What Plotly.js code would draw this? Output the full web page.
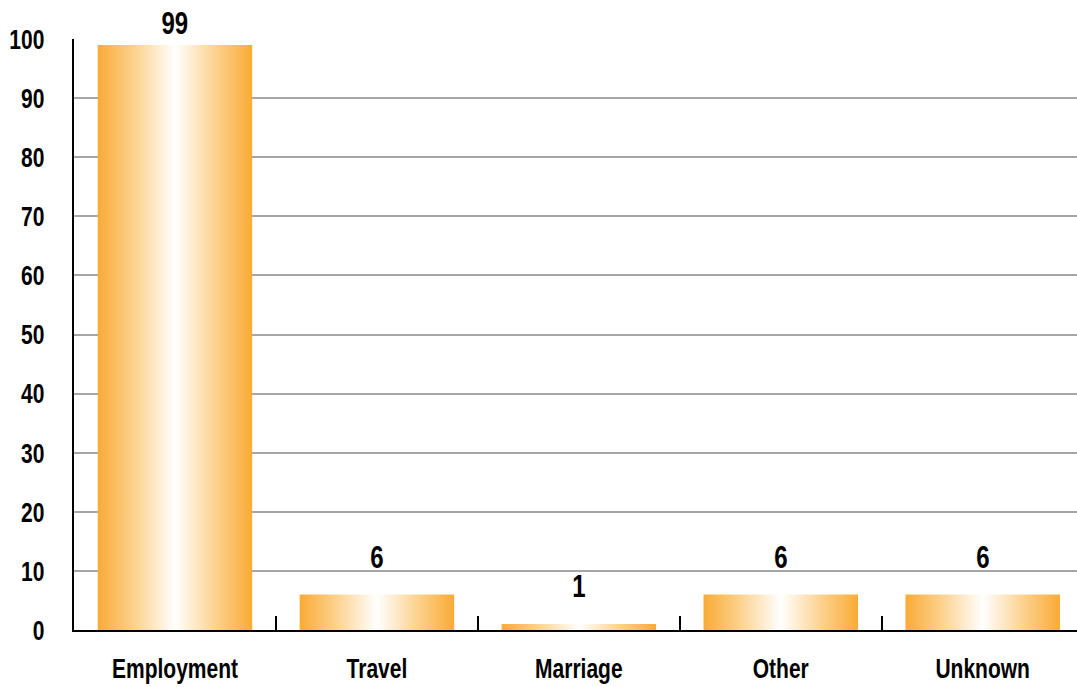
<!DOCTYPE html>
<html>
<head>
<meta charset="utf-8">
<script src="https://cdn.plot.ly/plotly-3.0.1.min.js"></script>
<style>
html,body{margin:0;padding:0;background:#fff;overflow:hidden;}
#chart{width:1077px;height:687px;}
</style>
</head>
<body>
<div id="chart"></div>
<script>
var categories = ["Employment", "Travel", "Marriage", "Other", "Unknown"];
var counts = [99, 6, 1, 6, 6];
var yTicks = [0, 10, 20, 30, 40, 50, 60, 70, 80, 90, 100];

var FONT = "'Liberation Sans', Arial, sans-serif";
var CONDENSE = 0.75;

var W = 1077, H = 687;
var M = {l: 74, r: 0, t: 39, b: 57};
var Y_MAX = 100;
var LABEL_GAP = 18;      // preferred offset of value labels above bar tops (px)
var LABEL_TOP_LIMIT = 43; // value label boxes may not rise above this pixel row

var trace = {
  type: "bar",
  x: categories,
  y: counts,
  width: 0.765,
  marker: {color: "#F9AD3A", line: {width: 0}},
  hoverinfo: "none"
};

var plotH = H - M.t - M.b;
var annotations = categories.map(function (c, i) {
  var barTopPx = M.t + (Y_MAX - counts[i]) / Y_MAX * plotH;
  var shift = Math.min(LABEL_GAP, barTopPx - LABEL_TOP_LIMIT);
  return {
    x: c, y: counts[i], xref: "x", yref: "y",
    text: String(counts[i]),
    showarrow: false,
    yanchor: "bottom",
    yshift: shift,
    font: {family: FONT, size: 32, weight: 700, color: "#000"}
  };
});

var layout = {
  width: W,
  height: H,
  margin: {l: M.l, r: M.r, t: M.t, b: M.b, pad: 0},
  paper_bgcolor: "#fff",
  plot_bgcolor: "#fff",
  showlegend: false,
  font: {family: FONT, size: 28, weight: 700, color: "#000"},
  annotations: annotations,
  xaxis: {
    type: "category",
    range: [-0.5, 4.467],
    showline: true,
    linecolor: "#000",
    linewidth: 2,
    showgrid: false,
    ticks: "inside",
    tickson: "boundaries",
    ticklen: 14,
    tickwidth: 2,
    tickcolor: "#000",
    ticklabelstandoff: 12,
    tickfont: {family: FONT, size: 28, weight: 700, color: "#000"}
  },
  yaxis: {
    range: [0, Y_MAX],
    tickvals: yTicks,
    ticktext: yTicks.map(String),
    showline: true,
    linecolor: "#000",
    linewidth: 2,
    showgrid: true,
    gridcolor: "#a6a6a6",
    gridwidth: 2,
    zeroline: false,
    ticks: "",
    ticklabelstandoff: 22,
    tickfont: {family: FONT, size: 28, weight: 700, color: "#000"}
  }
};

function condense(t) {
  if (t.getAttribute("data-cond")) return;
  var anchor = window.getComputedStyle(t).textAnchor || t.getAttribute("text-anchor") || "start";
  var b0 = t.getBBox();
  var len = t.getComputedTextLength();
  t.setAttribute("textLength", (len * CONDENSE).toFixed(2));
  t.setAttribute("lengthAdjust", "spacingAndGlyphs");
  var b1 = t.getBBox();
  var ref0, ref1;
  if (anchor === "end") { ref0 = b0.x + b0.width; ref1 = b1.x + b1.width; }
  else if (anchor === "middle") { ref0 = b0.x + b0.width / 2; ref1 = b1.x + b1.width / 2; }
  else { ref0 = b0.x; ref1 = b1.x; }
  var dx = ref0 - ref1;
  if (Math.abs(dx) > 0.1) {
    var x = parseFloat(t.getAttribute("x") || "0");
    t.setAttribute("x", (x + dx).toFixed(2));
  }
  t.setAttribute("data-cond", "1");
}

function styleChart(gd) {
  var svg = gd.querySelector("svg.main-svg");
  if (!svg) return;
  var ns = "http://www.w3.org/2000/svg";
  var defs = svg.querySelector("defs");
  if (!defs) { defs = document.createElementNS(ns, "defs"); svg.insertBefore(defs, svg.firstChild); }
  if (!defs.querySelector("#barGrad")) {
    var lg = document.createElementNS(ns, "linearGradient");
    lg.setAttribute("id", "barGrad");
    lg.setAttribute("x1", "0"); lg.setAttribute("y1", "0");
    lg.setAttribute("x2", "1"); lg.setAttribute("y2", "0");
    [["0%", "#F9AB35"], ["22%", "#FCCF87"], ["50%", "#FFFFFF"], ["78%", "#FCCF87"], ["100%", "#F9AB35"]].forEach(function (s) {
      var st = document.createElementNS(ns, "stop");
      st.setAttribute("offset", s[0]);
      st.setAttribute("stop-color", s[1]);
      lg.appendChild(st);
    });
    defs.appendChild(lg);
  }
  gd.querySelectorAll(".barlayer .point path").forEach(function (p) {
    p.style.fill = "url(#barGrad)";
  });
  gd.querySelectorAll(".xtick text, .ytick text, .annotation-text").forEach(condense);
}

var gd = document.getElementById("chart");
Plotly.newPlot(gd, [trace], layout, {staticPlot: true, displayModeBar: false}).then(function () {
  styleChart(gd);
  gd.on("plotly_afterplot", function () { styleChart(gd); });
});
</script>
</body>
</html>
